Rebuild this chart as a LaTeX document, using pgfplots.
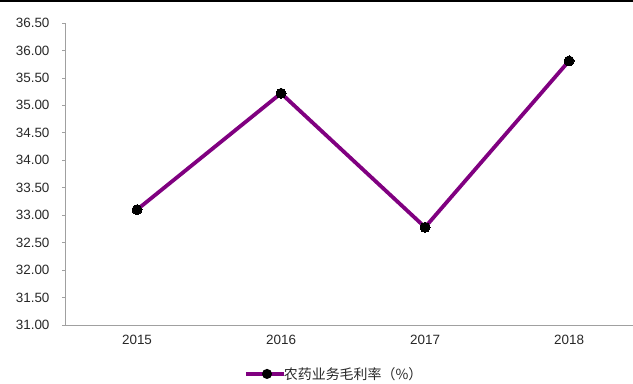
\documentclass[border=0pt]{standalone}
\usepackage{pgfplots}
\pgfplotsset{compat=1.18}
\usepackage{fontspec}
\setmainfont{Liberation Sans}
\newfontfamily\cjk{Noto Sans CJK SC}
\definecolor{lineP}{RGB}{128,0,128}
\definecolor{axgray}{RGB}{160,160,160}
\definecolor{txt}{RGB}{40,40,40}
\begin{document}
\begin{tikzpicture}[x=1bp,y=1bp]
\path[use as bounding box] (0,0) rectangle (633,383);
\draw[black,line width=2.5bp] (0,382) -- (633,382);
\begin{axis}[
  at={(65bp,58bp)}, anchor=south west,
  scale only axis, width=568bp, height=302bp,
  xmin=-0.5, xmax=3.444, ymin=31, ymax=36.5,
  axis x line*=bottom, axis y line*=left,
  axis line style={axgray, line width=0.8bp},
  xtick={0,1,2,3}, xticklabels={2015,2016,2017,2018},
  major x tick style={draw=none},
  extra x ticks={0.5,1.5,2.5}, extra x tick labels={},
  extra x tick style={tick align=inside, major tick length=4bp, tick style={axgray, line width=0.8bp}},
  ytick={31,31.5,...,36.5},
  /pgf/number format/fixed, /pgf/number format/fixed zerofill, /pgf/number format/precision=2,
  /pgf/number format/assume math mode=true,
  yticklabel style={font=\fontsize{13.5}{15}\selectfont, text=txt, xshift=-9bp},
  xticklabel style={font=\fontsize{13.5}{15}\selectfont, text=txt, yshift=-7bp},
  ytick align=outside, major tick length=3bp,
  tick style={axgray, line width=0.8bp},
  legend style={at={(0.315,-0.162)}, anchor=west, draw=none, inner sep=0pt, font=\cjk\fontsize{14}{16}\selectfont, text=txt, fill=none},
  legend cell align=left,
  legend image code/.code={\draw[#1] (0bp,0bp) -- (38bp,0bp); \fill[black] (21bp,0bp) circle (3bp);},
  clip=false,
]
\addplot[lineP, line width=3.8bp, mark=*, mark size=5bp, mark options={black, fill=black, line width=0bp}] coordinates {(0,33.10) (1,35.22) (2,32.78) (3,35.81)};
\addlegendentry[text=txt]{\hspace{-4bp}农药业务毛利率（\%）}
\end{axis}
\end{tikzpicture}
\end{document}
